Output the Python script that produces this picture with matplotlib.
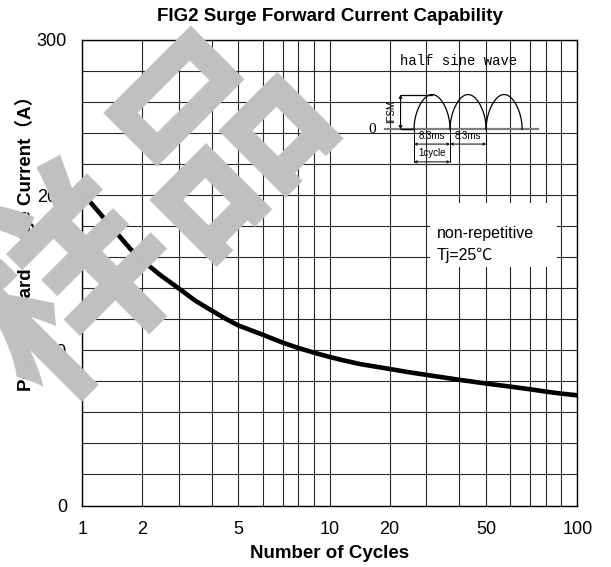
"""
FIG2 surge forward current capability (datasheet curve).
Peak forward surge current vs number of cycles on the printed
log paper of the datasheet, with the half-sine inset and the
'样品' sample watermark.
"""
import numpy as np
import matplotlib
matplotlib.use('Agg')
import matplotlib.pyplot as plt
from matplotlib.patches import Rectangle
from matplotlib.ticker import NullLocator

# curve
CYCLES = [1, 1.3, 1.8, 2, 2.5, 3, 3.5, 4, 4.5, 5, 6, 7, 8, 9, 10,
          12, 15, 20, 25, 30, 40, 50, 60, 70, 80, 90, 100]
IFSM = [201.5, 188, 165.5, 158, 148.5, 140, 132, 125.5, 120.5, 116, 110, 105, 101.5, 98.5, 95.7,
        93.8, 91.2, 88, 86, 84.2, 81, 78.6, 76.6, 74.9, 73.4, 72.1, 71]

X_TICKS = [1, 2, 5, 10, 20, 50, 100]
X_TICKLABELS = ['1', '2', '5', '10', '20', '50', '100']
X_GRID = [1, 2, 3, 4, 5, 6, 7, 8, 9, 10, 20, 30, 40, 50, 60, 70, 80, 90, 100]
Y_TICKS = [0, 100, 200, 300]
Y_TICKLABELS = ['0', '100', '200', '300']
Y_GRID = list(range(0, 301, 20))

# inset: three half-sine pulses of 8.3 ms each
PULSE_MS = 8.3
N_PULSES = 3

# the printed paper is not a true log scale: where 1..10 sit inside a decade
MANT = [1, 2, 3, 4, 5, 6, 7, 8, 9, 10]
FRAC = [0, 0.2416, 0.389, 0.524, 0.631, 0.730, 0.809, 0.873, 0.936, 1.0]

W, H = 611, 567
SANS = ['Liberation Sans', 'Noto Sans CJK SC', 'DejaVu Sans']
GRID_COL = '#262626'


def fwd(x):
    lx = np.log10(np.clip(np.asarray(x, dtype=float), 1e-12, None))
    d = np.floor(lx)
    return d + np.interp(10 ** (lx - d), MANT, FRAC)


def inv(y):
    y = np.asarray(y, dtype=float)
    d = np.floor(y)
    return np.interp(y - d, FRAC, MANT) * 10 ** d


def fx(px):
    return px / W


def fy(py):
    return 1 - py / H


def main():
    plt.rcParams['font.family'] = SANS
    fig = plt.figure(figsize=(W / 100, H / 100), dpi=100)
    ax = fig.add_axes([fx(82.3), fy(505.5), fx(577.3) - fx(82.3), fy(40) - fy(505.5)])
    ax.set_xscale('function', functions=(fwd, inv))
    ax.set_xlim(1, 100)
    ax.set_ylim(0, 300)

    for v in X_GRID:
        ax.axvline(v, color=GRID_COL, lw=0.8, zorder=1)
    for h in Y_GRID:
        ax.axhline(h, color=GRID_COL, lw=0.8, zorder=1)

    ax.plot(CYCLES, IFSM, color='black', lw=3.3, solid_capstyle='round',
            solid_joinstyle='round', zorder=3)

    ax.set_xticks(X_TICKS)
    ax.set_xticklabels(X_TICKLABELS)
    ax.set_yticks(Y_TICKS)
    ax.set_yticklabels(Y_TICKLABELS)
    ax.xaxis.set_minor_locator(NullLocator())
    ax.yaxis.set_minor_locator(NullLocator())
    ax.tick_params(axis='both', length=0, labelsize=13)
    ax.tick_params(axis='x', pad=11)
    ax.tick_params(axis='y', pad=11)
    for s in ax.spines.values():
        s.set_color('black')
        s.set_linewidth(1.0)

    fig.text(fx(329.8), fy(16.7), 'FIG2 Surge Forward Current Capability',
             ha='center', va='center', fontsize=13.5, fontweight='bold')
    fig.text(fx(330), fy(553), 'Number of Cycles',
             ha='center', va='center', fontsize=13.5, fontweight='bold')
    fig.text(fx(25), fy(238.5), 'Peak Forward Surge Current（A）', rotation=90,
             ha='center', va='center', fontsize=13.5, fontweight='bold')

    # white box with the test conditions
    fig.add_artist(Rectangle((fx(430), fy(267.3)), fx(557) - fx(430), fy(203.3) - fy(267.3),
                             transform=fig.transFigure, facecolor='white',
                             edgecolor='none', zorder=2))
    fig.text(fx(436.7), fy(233.3), 'non-repetitive', ha='left', va='center',
             fontsize=11.5, zorder=3)
    fig.text(fx(436.7), fy(255), 'Tj=25℃', ha='left', va='center',
             fontsize=11.5, zorder=3)

    # half sine wave inset, time axis in ms, amplitude in units of IFSM
    ins = fig.add_axes([fx(368), fy(180), fx(543) - fx(368), fy(48.5) - fy(180)], zorder=2)
    ins.set_facecolor('white')
    ins.set_axis_off()
    ins.patch.set_visible(True)
    ins.set_xlim(-10.6, 29.7)
    ins.set_ylim(-1.45, 2.32)

    t = np.linspace(0, 1, 120)
    arch = np.sqrt(np.sin(np.pi * t))
    for k in range(N_PULSES):
        ins.plot(PULSE_MS * (k + t), arch, color='black', lw=0.9)
    ins.plot([-6.7, 28.6], [0, 0], color='#7f7f7f', lw=1.6, zorder=1)
    ins.plot([-3.1, 0], [0, 0], color='black', lw=1.0, zorder=2)
    ins.plot([-3.1, PULSE_MS / 2], [1, 1], color='black', lw=0.9)
    ins.annotate('', xy=(-3.1, 1), xytext=(-3.1, 0),
                 arrowprops=dict(arrowstyle='<->', lw=0.8, color='black',
                                 shrinkA=0, shrinkB=0, mutation_scale=5))
    ins.text(-5.2, 0.5, 'IFSM', rotation=90, ha='center', va='center', fontsize=7)
    ins.text(-9.7, 0, '0', ha='center', va='center', fontsize=11,
             family='Liberation Serif')
    ins.text(10.2, 1.96, 'half sine wave', ha='center', va='center', fontsize=10,
             family='Liberation Mono')

    # dimension lines below the pulses
    for tx, lo in [(0, -0.93), (PULSE_MS, -0.93), (2 * PULSE_MS, -0.42)]:
        ins.plot([tx, tx], [0, lo], color='black', lw=0.7)
    for k in range(2):
        ins.annotate('', xy=(PULSE_MS * (k + 1), -0.42), xytext=(PULSE_MS * k, -0.42),
                     arrowprops=dict(arrowstyle='<->', lw=0.7, color='black',
                                     shrinkA=0, shrinkB=0, mutation_scale=4))
        ins.text(PULSE_MS * (k + 0.5), -0.2, f'{PULSE_MS}ms', ha='center', va='center',
                 fontsize=7)
    ins.annotate('', xy=(PULSE_MS, -0.93), xytext=(0, -0.93),
                 arrowprops=dict(arrowstyle='<->', lw=0.7, color='black',
                                 shrinkA=0, shrinkB=0, mutation_scale=4))
    ins.text(PULSE_MS / 2, -0.67, '1cycle', ha='center', va='center', fontsize=7)

    # sample watermark on top of everything
    fig.text(fx(149), fy(217), '样品', rotation=45, rotation_mode='anchor',
             ha='center', va='center', fontsize=151, color='#c0c0c0',
             family=['Noto Sans CJK SC'], fontweight='bold', zorder=10)

    fig.savefig('out.png', dpi=100)
    plt.close(fig)


if __name__ == '__main__':
    main()
